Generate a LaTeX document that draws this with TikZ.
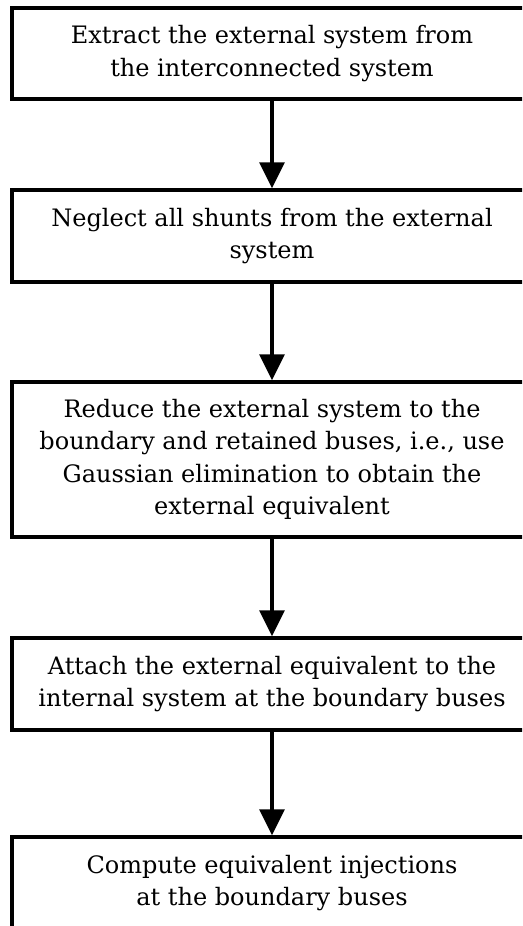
\documentclass[tikz,border=0pt]{standalone}
\usepackage{fontspec}
\setmainfont{DejaVu Serif}
\usepackage{tikz}
\usetikzlibrary{arrows.meta}

\begin{document}
\begin{tikzpicture}[x=1pt, y=-1pt,
  stepbox/.style={draw, line width=3.5pt, minimum width=520pt, inner sep=0pt,
    align=center, font=\fontsize{24}{32.5}\selectfont},
  flow/.style={line width=3.5pt, -{Triangle[width=25pt,length=26pt]}}]
\useasboundingbox (0, 0) rectangle (522, 926);
\clip (0, 0) rectangle (522, 926);

\node[stepbox, minimum height=91pt] (extract) at (272, 53.5)
  {Extract the external system from\\the interconnected system};
\node[stepbox, minimum height=92pt] (neglect) at (272, 236)
  {Neglect all shunts from the external\\system};
\node[stepbox, minimum height=155pt] (reduce) at (272, 459.5)
  {Reduce the external system to the\\boundary and retained buses, i.e., use\\Gaussian elimination to obtain the\\external equivalent};
\node[stepbox, minimum height=92pt] (attach) at (272, 684)
  {Attach the external equivalent to the\\internal system at the boundary buses};
\node[stepbox, minimum height=92pt] (compute) at (272, 883)
  {Compute equivalent injections\\at the boundary buses};

\draw[flow] (extract) -- (neglect);
\draw[flow] (neglect) -- (reduce);
\draw[flow] (reduce) -- (attach);
\draw[flow] (attach) -- (compute);
\end{tikzpicture}
\end{document}
